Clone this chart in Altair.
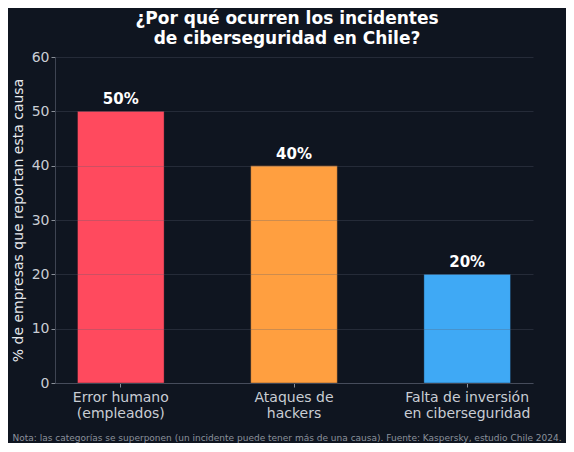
import altair as alt
import pandas as pd

categories = ["Error humano\n(empleados)", "Ataques de\nhackers", "Falta de inversión\nen ciberseguridad"]
values = [50, 40, 20]
labels = ["50%", "40%", "20%"]
colors = ["#FF4A5E", "#FF9F40", "#3FA9F5"]
note = ["Nota: las categorías se superponen (un incidente puede tener más de una causa). Fuente: Kaspersky, estudio Chile 2024."]

df = pd.DataFrame({"cat": categories, "val": values, "lab": labels, "col": colors})
note_df = pd.DataFrame({"t": note})

BG = "#0F1520"

x = alt.X("cat:N", sort=categories, title=None,
          scale=alt.Scale(paddingInner=0.5, paddingOuter=0.13),
          axis=alt.Axis(labelAngle=0, labelExpr="split(datum.label, '\\n')",
                        labelFontSize=14, labelColor="#C9CDD4", labelLineHeight=16,
                        labelPadding=3, tickSize=4, tickColor="#8A9099",
                        domainColor="#3E4452", labelBaseline="top"))
y = alt.Y("val:Q", title="% de empresas que reportan esta causa",
          scale=alt.Scale(domain=[0, 60], nice=False),
          axis=alt.Axis(values=[0, 10, 20, 30, 40, 50, 60], labelFontSize=14,
                        labelColor="#C9CDD4", titleFontSize=14, titleColor="#E6E8EC",
                        titleFontWeight="normal", titlePadding=6, tickSize=4,
                        tickColor="#8A9099", domainColor="#3E4452",
                        grid=True, gridColor="#5A6070", gridOpacity=0.3, zindex=1))

bars = alt.Chart(df).mark_bar(stroke="#0F1520", strokeOpacity=0.35, strokeWidth=1).encode(
    x=x, y=y, color=alt.Color("col:N", scale=None)
)
text = alt.Chart(df).mark_text(fontSize=15, fontWeight="bold", color="white",
                               baseline="alphabetic", dy=-7).encode(
    x=alt.X("cat:N", sort=categories), y="val:Q", text="lab:N"
)
foot = alt.Chart(note_df).mark_text(fontSize=9, color="#8B929C", align="center",
                                    baseline="middle").encode(
    x=alt.value(232), y=alt.value(381), text="t:N"
)

chart = alt.layer(bars, text, foot).properties(
    width=478, height=326,
    title=alt.TitleParams(text=["¿Por qué ocurren los incidentes", "de ciberseguridad en Chile?"],
                          fontSize=17, fontWeight="bold", color="white", anchor="middle",
                          frame="group", dx=-7, offset=2, lineHeight=20),
    padding={"left": 47, "top": 49, "right": 33, "bottom": 60},
    autosize=alt.AutoSizeParams(type="none"),
    background=BG,
).configure(font="DejaVu Sans").configure_view(stroke=None)

chart.save("out.html", embed_options={"renderer": "svg", "actions": False})
